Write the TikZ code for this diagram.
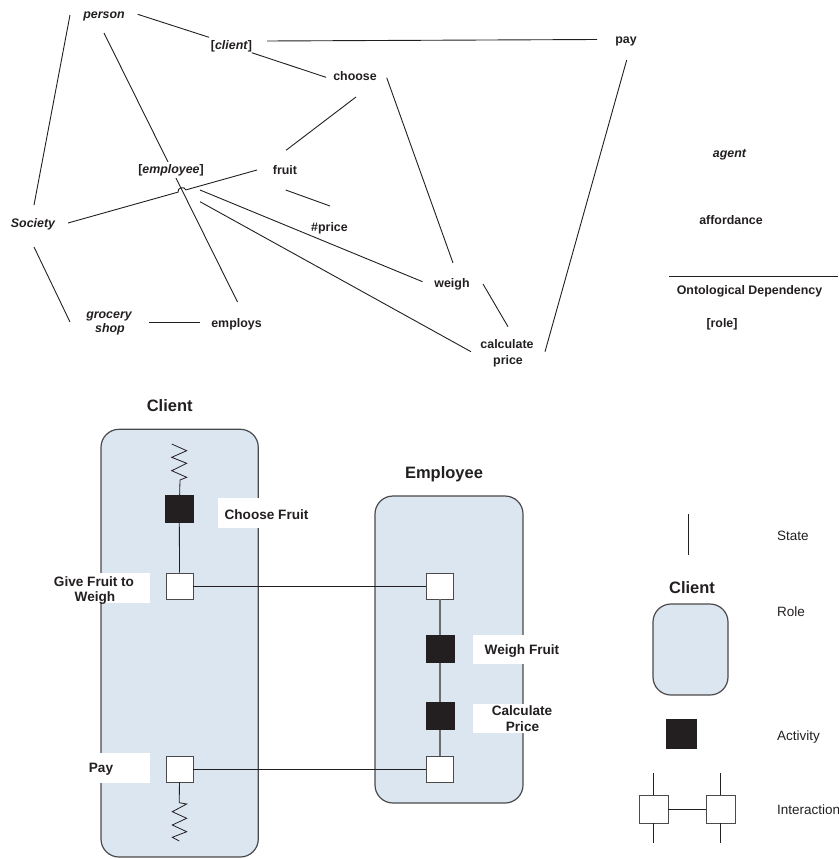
\documentclass[tikz,border=0pt]{standalone}
\usepackage{fontspec}
\setmainfont{Liberation Sans}
\definecolor{ink}{HTML}{231F20}
\definecolor{rolefill}{HTML}{DCE6F1}
\definecolor{roleedge}{HTML}{4A4A4A}
\definecolor{stem}{HTML}{6E6E6E}
\begin{document}
\begin{tikzpicture}[x=1pt,y=-1pt,
  tl/.style={font=\bfseries\fontsize{12.4}{15}\selectfont, text=ink, inner sep=0pt, anchor=base},
  tli/.style={tl, font=\bfseries\itshape\fontsize{12.4}{15}\selectfont},
  link/.style={draw=ink, line width=0.9pt},
  rolebox/.style={draw=roleedge, fill=rolefill, line width=1.2pt, rounded corners=18pt},
  act/.style={draw=ink, fill=ink, minimum width=28pt, minimum height=27pt, inner sep=0pt},
  inter/.style={draw=roleedge, fill=white, line width=0.9pt, minimum width=27pt, minimum height=26pt, inner sep=0pt},
  lbl/.style={font=\bfseries\fontsize{13.6}{15}\selectfont, text=ink, inner sep=0pt, anchor=base},
  ttl/.style={font=\bfseries\fontsize{16.5}{18}\selectfont, text=ink, inner sep=0pt, anchor=base},
  legtext/.style={font=\fontsize{13.5}{15}\selectfont, text=ink, inner sep=0pt, anchor=base west},
  labelbg/.style={fill=white}]
\useasboundingbox (0,0) rectangle (838,859);

% ---------- ontology graph ----------
\node[tli] (person) at (104,19) {person};
\node[tl] (client) at (231.5,50) {[\textit{client}]};
\node[tl] (choose) at (355,81) {choose};
\node[tl] (pay) at (626,44) {pay};
\node[tl] (fruit) at (285,174) {fruit};
\node[tl] (price) at (329.5,231) {\#price};
\node[tli] (society) at (33,227) {Society};
\node[tl] (weigh) at (452,287) {weigh};
\node[tli] (grocery) at (109,318) {grocery};
\node[tli] (shop) at (110,332) {shop};
\node[tl] (employs) at (236.5,327) {employs};
\node[tl] (calc) at (507,348) {calculate};
\node[tl] (calc2) at (508,364) {price};

% connector end points
\coordinate (personE) at (137.7,14.3);
\coordinate (clientW) at (209,37.3);
\coordinate (clientE) at (267,41);
\coordinate (payW) at (597,39.5);
\coordinate (clientSE) at (251.7,52.7);
\coordinate (chooseW) at (326,77.3);
\coordinate (chooseS) at (356,97);
\coordinate (fruitN) at (286,150.3);
\coordinate (chooseE) at (386.7,77.7);
\coordinate (weighN) at (453,263);
\coordinate (personS) at (104,33);
\coordinate (employsN) at (237.5,302);
\coordinate (personW) at (70,15);
\coordinate (societyN) at (34,205);
\coordinate (societyS) at (34,247);
\coordinate (groceryN) at (70,322);
\coordinate (groceryE) at (149,322);
\coordinate (employsW) at (200,322);
\coordinate (societyE) at (68,223);
\coordinate (fruitW) at (257,170);
\coordinate (hopA) at (178.1,192.1);
\coordinate (hopB) at (185.9,189.9);
\coordinate (employeeE) at (200,190);
\coordinate (weighW) at (422.5,281.7);
\coordinate (employeeSE) at (200,201.7);
\coordinate (calcW) at (471,351.7);
\coordinate (fruitS) at (285.7,190);
\coordinate (priceN) at (330,206);
\coordinate (weighSE) at (483,284);
\coordinate (calcN) at (508,326.7);
\coordinate (calcE) at (545,351.7);
\coordinate (payS) at (626.7,60);

\draw[link] (personE) -- (clientW);
\draw[link] (clientE) -- (payW);
\draw[link] (clientSE) -- (chooseW);
\draw[link] (chooseS) -- (fruitN);
\draw[link] (chooseE) -- (weighN);
\draw[link] (personS) -- (employsN);
\draw[link] (personW) -- (societyN);
\draw[link] (societyS) -- (groceryN);
\draw[link] (groceryE) -- (employsW);
\draw[link] (societyE) -- (hopA) .. controls (176.8,187.8) and (184.6,185.6) .. (hopB) -- (fruitW);
\draw[link] (employeeE) -- (weighW);
\draw[link] (employeeSE) -- (calcW);
\draw[link] (fruitS) -- (priceN);
\draw[link] (weighSE) -- (calcN);
\draw[link] (calcE) -- (payS);

% the role label sits on a white patch over the person line
\node[tl, fill=white, inner sep=2.5pt] (employee) at (171,173) {[\textit{employee}]};

% key of the ontology graph
\node[tli] (agent) at (729.5,157) {agent};
\node[tl] (afford) at (731,224) {affordance};
\coordinate (depW) at (669,276);
\coordinate (depE) at (838,276);
\draw[link] (depW) -- (depE);
\node[tl] (ontodep) at (749.5,294) {Ontological Dependency};
\node[tl] (role) at (722,327) {[role]};

% ---------- role / activity diagram ----------
\node[ttl] (clientT) at (169.7,411) {Client};
\node[ttl] (employeeT) at (444,478) {Employee};
\draw[rolebox] (101,429.3) rectangle (258.3,857);
\draw[rolebox] (375,496) rectangle (523,803);

\node[act] (cf) at (179.3,508.5) {};
\node[inter] (g1) at (179.5,586) {};
\node[inter] (p1) at (179.5,769) {};
\node[inter] (g2) at (440,586) {};
\node[act] (wf) at (440,649) {};
\node[act] (cp) at (440,716) {};
\node[inter] (p2) at (440,769) {};

% client life line with its start and end states
\coordinate (springTop) at (171.7,444);
\coordinate (springEnd) at (179.3,841);
\draw[link, line width=0.8pt] (springTop) -- (186.7,450.7) -- (171.7,457.3) -- (186.7,463.3) -- (171.7,470.7) -- (186.7,477.3) -- (180,480) -- (cf);
\draw[link, line width=0.8pt] (cf) -- (g1);
\draw[link, line width=0.8pt] (p1) -- (179.3,802.7) -- (186.7,804) -- (172.3,811.7) -- (186.7,818.3) -- (172.3,825) -- (186.7,831.7) -- (172.3,837.3) -- (springEnd);

% employee life line
\draw[draw=stem, line width=1.1pt] (g2) -- (wf) -- (cp) -- (p2);

% interactions
\draw[link] (g1) -- (g2);
\draw[link] (p1) -- (p2);

% activity and interaction labels
\fill[labelbg] (218,498) rectangle (315,528);
\node[lbl] (cfL) at (266.5,519) {Choose Fruit};
\fill[labelbg] (50,573) rectangle (150,603);
\node[lbl] (g1L) at (94,586) {Give Fruit to};
\node[lbl] (g1L2) at (95,601) {Weigh};
\fill[labelbg] (50,753) rectangle (150,783);
\node[lbl] (p1L) at (101,772) {Pay};
\fill[labelbg] (473,635) rectangle (571,664);
\node[lbl] (wfL) at (522,654) {Weigh Fruit};
\fill[labelbg] (473,704) rectangle (571,733);
\node[lbl] (cpL) at (522,715.6) {Calculate};
\node[lbl] (cpL2) at (522.5,731) {Price};

% ---------- legend ----------
\coordinate (stateTop) at (688,514);
\coordinate (stateBot) at (688,555);
\draw[link] (stateTop) -- (stateBot);
\node[legtext] (stateL) at (777,540) {State};

\node[ttl] (legClient) at (692,593) {Client};
\draw[rolebox] (653,604) rectangle (728,695);
\node[legtext] (roleL) at (777,616) {Role};

\node[act, minimum width=30pt, minimum height=29pt] (legAct) at (681,733.5) {};
\node[legtext] (actL) at (777,740.5) {Activity};

\node[inter, minimum width=29pt, minimum height=28pt] (li1) at (653.5,809) {};
\node[inter, minimum width=29pt, minimum height=28pt] (li2) at (720.5,809) {};
\coordinate (li1t) at (653.5,773);
\coordinate (li1b) at (653.5,843);
\coordinate (li2t) at (720.5,773);
\coordinate (li2b) at (720.5,843);
\draw[link] (li1t) -- (li1);
\draw[link] (li1) -- (li1b);
\draw[link] (li2t) -- (li2);
\draw[link] (li2) -- (li2b);
\draw[link] (li1) -- (li2);
\node[legtext] (interL) at (777,814) {Interaction};
\end{tikzpicture}
\end{document}
